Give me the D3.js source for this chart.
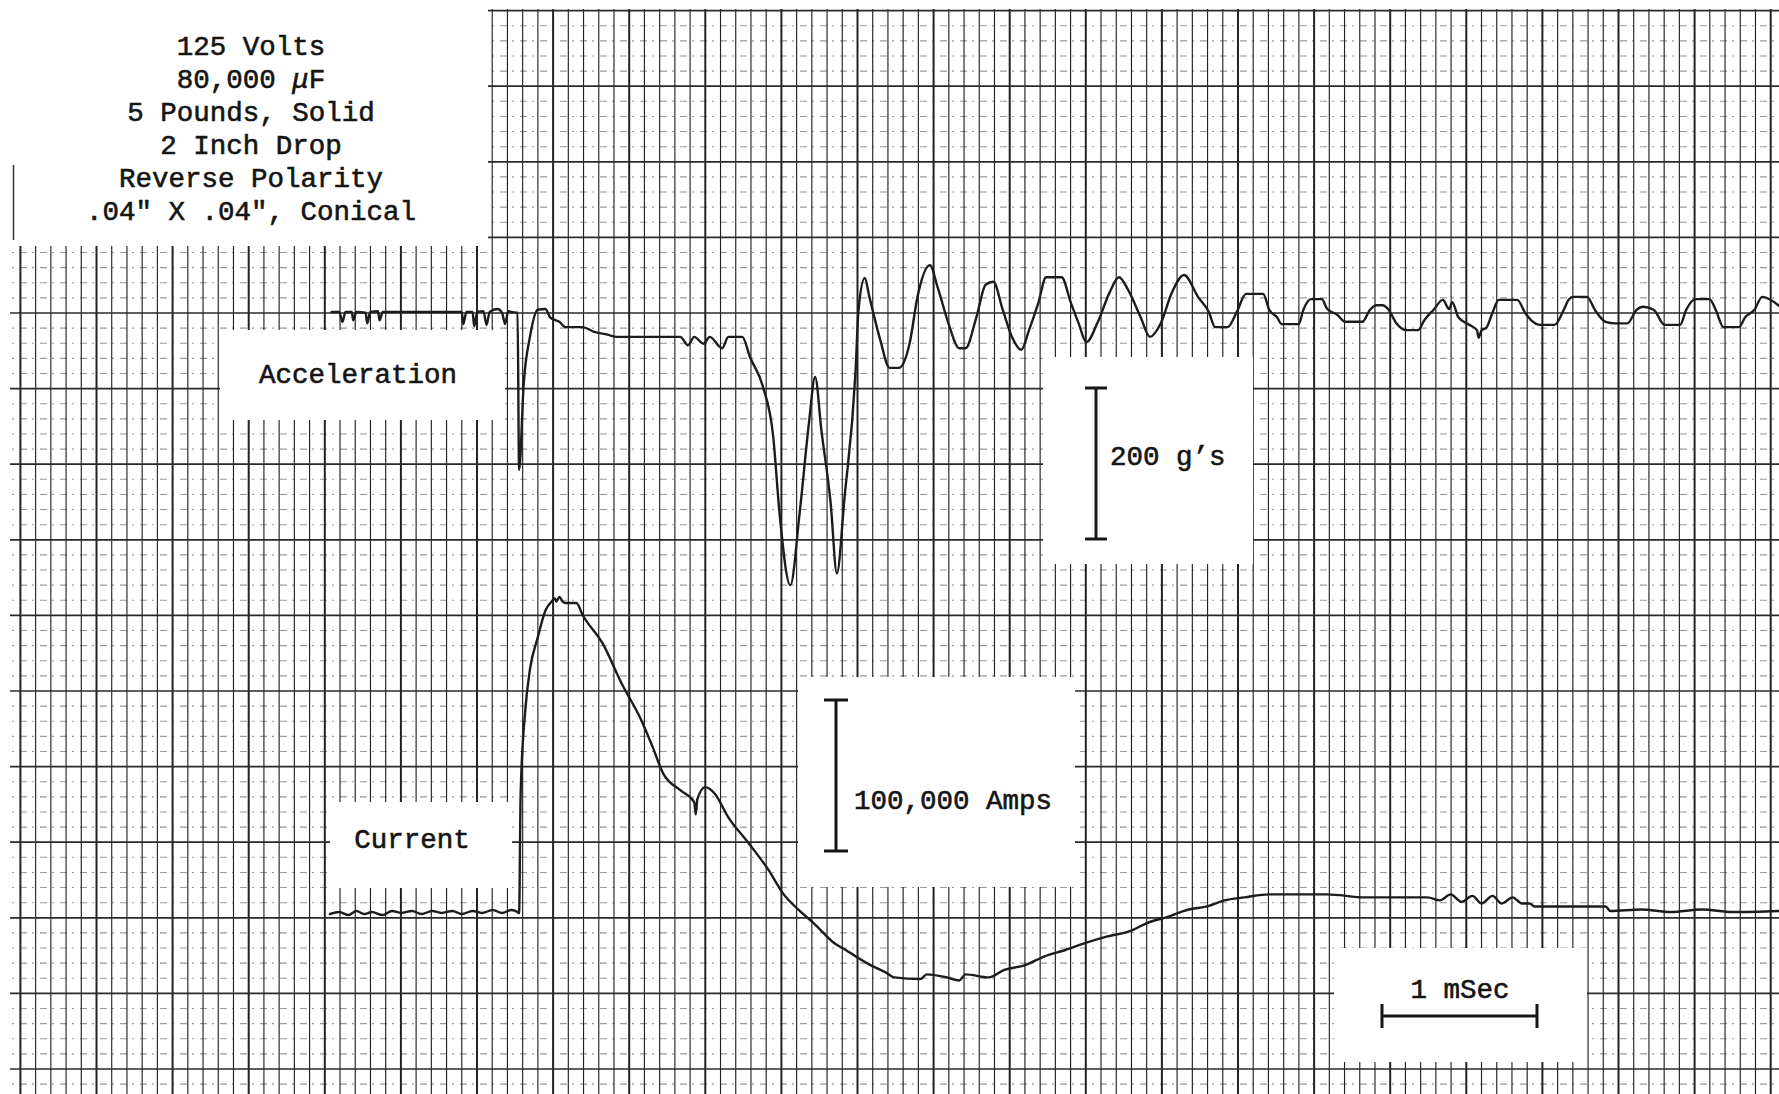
<!DOCTYPE html>
<html>
<head>
<meta charset="utf-8">
<script src="https://cdn.jsdelivr.net/npm/d3@7"></script>
<style>
  html, body { margin: 0; padding: 0; background: #ffffff; }
  svg { display: block; }
  text { font-family: "Liberation Mono", "Courier New", monospace; fill: #151515; stroke: #151515; stroke-width: 0.6; }
</style>
</head>
<body>
<svg id="chart" width="1779" height="1094"></svg>
<script>
// ---- Test conditions (header block) ----
const conditionLines = ["125 Volts", "80,000 μF", "5 Pounds, Solid", "2 Inch Drop", "Reverse Polarity", ".04\" X .04\", Conical"];

// ---- Acceleration trace: time (ms, 0 = current onset) and acceleration (g) ----
const accelTime = [-1.19,-1.14,-1.12,-1.10,-1.06,-1.05,-1.03,-0.97,-0.96,-0.94,-0.89,-0.88,-0.86,-0.68,-0.49,-0.35,-0.34,-0.32,-0.28,-0.27,-0.25,-0.21,-0.19,-0.17,-0.12,-0.09,-0.07,-0.05,-0.03,
  0.01,0.02,0.05,0.09,0.14,0.19,0.22,0.28,0.32,0.43,0.50,0.59,0.65,1.06,1.11,1.15,1.21,1.25,1.33,1.37,1.46,1.51,1.59,1.66,1.70,1.77,1.83,1.89,1.93,1.97,2.03,2.07,2.12,2.19,2.21,2.25,2.28,
  2.35,2.41,2.47,2.54,2.59,2.67,2.72,2.79,2.86,2.90,2.97,3.03,3.08,3.14,3.20,3.26,3.31,3.37,3.42,3.52,3.58,3.63,3.68,3.75,3.83,3.89,3.95,4.03,4.09,4.16,4.23,4.31,4.40,4.47,4.51,4.59,4.65,
  4.71,4.82,4.86,4.91,4.94,5.05,5.08,5.13,5.20,5.23,5.30,5.35,5.46,5.51,5.55,5.59,5.63,5.68,5.74,5.82,5.86,5.92,5.98,6.02,6.04,6.08,6.15,6.20,6.21,6.23,6.26,6.30,6.34,6.46,6.51,6.55,6.61,
  6.70,6.76,6.79,6.82,6.91,6.96,7.03,7.09,7.17,7.23,7.27,7.34,7.41,7.51,7.55,7.61,7.70,7.74,7.79,7.89,7.93,7.99,8.04,8.15];
const accelG = [0,0,-13,0,0,-11,0,-1,-15,0,1,-11,0,0,0,0,-16,0,0,-19,0,1,-17,0,4,-1,-16,1,0,
  -1,-209,-94,-33,3,4,-7,-13,-20,-20,-26,-30,-33,-33,-44,-33,-42,-33,-48,-33,-33,-60,-97,-166,-266,-362,-266,-147,-86,-156,-253,-346,-245,-81,3,45,20,
  -37,-74,-74,-41,20,62,33,-15,-48,-48,-7,36,40,3,-33,-50,-24,12,46,46,12,-15,-40,-15,26,46,29,-7,-33,-15,25,49,20,0,-20,-20,0,
  24,24,3,-7,-16,-16,3,17,17,5,-4,-13,-13,3,9,9,3,-15,-24,-24,-11,3,16,4,13,-7,-17,-24,-34,-24,-21,-1,16,16,-1,-11,-17,
  -17,3,16,20,20,3,-13,-15,-15,3,7,3,-17,-17,3,17,17,3,-20,-20,-7,3,20,8];

// ---- Current trace: time (ms) and current (kA) ----
const currentTime = [-1.20,-1.14,-1.08,-1.03,-0.98,-0.93,-0.86,-0.80,-0.74,-0.67,-0.61,-0.54,-0.48,-0.41,-0.35,-0.28,-0.22,-0.15,-0.09,-0.03,0.01,
  0.02,0.03,0.06,0.09,0.14,0.19,0.23,0.25,0.26,0.28,0.30,0.32,0.39,0.43,0.56,0.68,0.81,0.88,0.95,1.06,1.15,1.16,1.17,1.22,1.28,1.37,1.50,1.63,1.72,1.82,1.92,2.05,2.13,2.19,2.29,2.39,2.44,
  2.61,2.65,2.78,2.86,2.90,3.05,3.15,3.28,3.41,3.54,3.68,3.81,3.97,4.07,4.20,4.34,4.46,4.57,4.70,4.86,5.23,5.48,5.88,5.96,6.03,6.10,6.17,6.23,6.30,6.36,6.43,6.49,6.54,6.57,7.03,7.06,
  7.26,7.45,7.65,7.85,8.15];
const currentKA = [0,1.3,-0.7,2,0,1.3,-0.7,2,0.7,2,0,2,0.7,2,0,2,0.7,2.6,0.7,2.6,1.3,
  0.5,80,135,162,183,201,207,209,207,210,207,206,206,198,179,153,128,111,93,82,74,66,76,84,80,64,47,29,14,3,-6,-19,-24,-28,-34,-39,-42,
  -43,-40,-42,-44,-40,-42,-37,-34,-28,-24,-19,-15,-11,-6,-2,3,5,9,11,13,13,11,11,9,13,8,12,7,12,7,11,7,7,5,5,2,
  3,1.3,3,1.3,2];

// ---- Annotations ----
const traceLabels = ["Acceleration", "Current"];
const accelScaleG = 200;      // 200 g's
const currentScaleKA = 100;   // 100,000 Amps
const timeScaleMs = 1;        // 1 mSec
const scaleLabels = ["200 g’s", "100,000 Amps", "1 mSec"];

const W = 1779, H = 1094;
const svg = d3.select("#chart");

// Signal scales
const x = d3.scaleLinear().domain([0, 1]).range([516, 671]);          // ms -> px
const yAcc = d3.scaleLinear().domain([0, 100]).range([312, 236.5]);   // g -> px
const yCur = d3.scaleLinear().domain([0, 100]).range([914, 763]);     // kA -> px

// Chart-paper scales (1 mm minor division, 5 mm major)
const gx = d3.scaleLinear().domain([0, 1]).range([477, 492.22]);
const gy = d3.scaleLinear().domain([0, 1]).range([313, 328.12]);

svg.append("rect").attr("width", W).attr("height", H).attr("fill", "#ffffff");

// Paper area: right block from the top edge, left block below the header
const defs = svg.append("defs");
const clip = defs.append("clipPath").attr("id", "paper");
clip.append("rect").attr("x", 488).attr("y", 9).attr("width", W - 488).attr("height", H - 9);
clip.append("rect").attr("x", 10).attr("y", 246).attr("width", 480).attr("height", H - 246);

const grid = svg.append("g").attr("clip-path", "url(#paper)");

// horizontal minor (dotted) lines
const hMm = d3.range(-20, 52);
grid.selectAll("line.hmin").data(hMm.filter(d => d % 5 !== 0)).join("line")
  .attr("x1", 0).attr("x2", W).attr("y1", d => gy(d)).attr("y2", d => gy(d))
  .attr("stroke", "#555").attr("stroke-width", 1.1).attr("stroke-dasharray", "7,5,2,6").attr("opacity", 0.6);

// vertical lines
const vMm = d3.range(-31, 86);
grid.selectAll("line.v").data(vMm).join("line")
  .attr("x1", d => gx(d)).attr("x2", d => gx(d)).attr("y1", 0).attr("y2", H)
  .attr("stroke", "#222").attr("stroke-width", d => (d % 5 === 0 ? 2.0 : 1.15));

// horizontal major lines
grid.selectAll("line.hmaj").data(hMm.filter(d => d % 5 === 0)).join("line")
  .attr("x1", 0).attr("x2", W).attr("y1", d => gy(d)).attr("y2", d => gy(d))
  .attr("stroke", "#2a2a2a").attr("stroke-width", 1.7);

// header margin mark
svg.append("line").attr("x1", 13.5).attr("x2", 13.5).attr("y1", 165).attr("y2", 240)
  .attr("stroke", "#333").attr("stroke-width", 1.5);

// pasted label panels
const panels = [
  [220, 330, 285, 90],     // Acceleration
  [1043, 357, 210, 207],   // 200 g's
  [330, 802, 182, 86],     // Current
  [798, 677, 277, 210],    // 100,000 Amps
  [1334, 948, 253, 114]    // 1 mSec
];
svg.selectAll("rect.panel").data(panels).join("rect")
  .attr("x", d => d[0]).attr("y", d => d[1]).attr("width", d => d[2]).attr("height", d => d[3])
  .attr("fill", "#ffffff");

// traces
const accelData = accelTime.map((t, i) => [t, accelG[i]]);
const currentData = currentTime.map((t, i) => [t, currentKA[i]]);

svg.append("path").datum(accelData)
  .attr("d", d3.line().curve(d3.curveMonotoneX).x(d => x(d[0])).y(d => yAcc(d[1])))
  .attr("fill", "none").attr("stroke", "#1c1c1c").attr("stroke-width", 2.4)
  .attr("stroke-linejoin", "round").attr("stroke-linecap", "round");

svg.append("path").datum(currentData)
  .attr("d", d3.line().curve(d3.curveMonotoneX).x(d => x(d[0])).y(d => yCur(d[1])))
  .attr("fill", "none").attr("stroke", "#1c1c1c").attr("stroke-width", 2.4)
  .attr("stroke-linejoin", "round").attr("stroke-linecap", "round");

// header text
const fs = 27.5;
conditionLines.forEach((line, i) => {
  const t = svg.append("text").attr("x", 251).attr("y", 47 + i * 32.9)
    .attr("text-anchor", "middle").attr("dominant-baseline", "central").attr("font-size", fs);
  const parts = line.split("μ");
  parts.forEach((p, j) => {
    if (j > 0) t.append("tspan").attr("font-style", "italic").text("μ");
    t.append("tspan").text(p);
  });
});

// trace labels
svg.append("text").attr("x", 358).attr("y", 375).attr("text-anchor", "middle")
  .attr("dominant-baseline", "central").attr("font-size", fs).text(traceLabels[0]);
svg.append("text").attr("x", 412).attr("y", 840).attr("text-anchor", "middle")
  .attr("dominant-baseline", "central").attr("font-size", fs).text(traceLabels[1]);

// scale bar helper (I-beam)
function vBar(cx, top, len, cap) {
  const g = svg.append("g").attr("stroke", "#151515").attr("stroke-width", 3);
  g.append("line").attr("x1", cx).attr("x2", cx).attr("y1", top).attr("y2", top + len);
  g.append("line").attr("x1", cx - cap).attr("x2", cx + cap).attr("y1", top).attr("y2", top);
  g.append("line").attr("x1", cx - cap).attr("x2", cx + cap).attr("y1", top + len).attr("y2", top + len);
}

// 200 g's
const gLen = yAcc(0) - yAcc(accelScaleG);
vBar(1096, 388, gLen, 11);
svg.append("text").attr("x", 1110).attr("y", 457).attr("dominant-baseline", "central")
  .attr("font-size", fs).text(scaleLabels[0]);

// 100,000 Amps
const aLen = yCur(0) - yCur(currentScaleKA);
vBar(836, 700, aLen, 12);
svg.append("text").attr("x", 854).attr("y", 801).attr("dominant-baseline", "central")
  .attr("font-size", fs).text(scaleLabels[1]);

// 1 mSec
const tLen = x(timeScaleMs) - x(0);
const hb = svg.append("g").attr("stroke", "#151515").attr("stroke-width", 3);
hb.append("line").attr("x1", 1382).attr("x2", 1382 + tLen).attr("y1", 1016).attr("y2", 1016);
hb.append("line").attr("x1", 1382).attr("x2", 1382).attr("y1", 1004).attr("y2", 1028);
hb.append("line").attr("x1", 1382 + tLen).attr("x2", 1382 + tLen).attr("y1", 1004).attr("y2", 1028);
svg.append("text").attr("x", 1460).attr("y", 990).attr("text-anchor", "middle")
  .attr("dominant-baseline", "central").attr("font-size", fs).text(scaleLabels[2]);
</script>
</body>
</html>
